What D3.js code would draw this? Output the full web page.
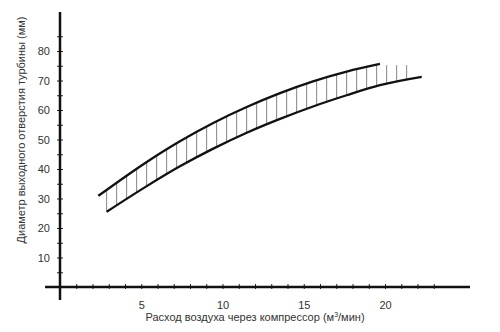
<!DOCTYPE html>
<html>
<head>
<meta charset="utf-8">
<script src="https://cdn.jsdelivr.net/npm/d3@7"></script>
<style>
  html, body { margin: 0; padding: 0; background: #fff; }
  svg { display: block; font-family: "Liberation Sans", Arial, sans-serif; }
</style>
</head>
<body>
<svg id="chart" width="500" height="332"></svg>
<script>
// Upper boundary of the band: flow (m³/min) vs outlet diameter (mm)
const upperX = [2.36, 5.34, 7.38, 9.43, 11.49, 13.54, 15.57, 17.64, 19.69];
const upperY = [30.9, 42.4, 49.4, 55.6, 61.0, 65.7, 69.7, 73.0, 75.6];
// Lower boundary of the band
const lowerX = [2.87, 5.34, 7.38, 9.43, 11.49, 13.54, 15.57, 17.64, 19.69, 22.26];
const lowerY = [25.5, 34.2, 40.9, 46.9, 52.3, 57.0, 61.2, 65.0, 68.4, 71.2];
// Hatch lines between the two boundaries
const hatchStart = 2.87, hatchEnd = 21.4, hatchStep = 0.6154;
const hatchCap = 75.2; // top of hatches past the end of the upper boundary

const xTicks = d3.range(1, 24);
const xTickLabels = [5, 10, 15, 20];
const yTicks = d3.range(5, 90, 5);
const yTickLabels = [10, 20, 30, 40, 50, 60, 70, 80];

const xTitle = "Расход воздуха через компрессор (м";
const xTitleSup = "3";
const xTitleEnd = "/мин)";
const yTitle = "Диаметр выходного отверстия турбины (мм)";

const svg = d3.select("#chart");
const x = d3.scaleLinear().domain([0, 20]).range([60, 385]);
const y = d3.scaleLinear().domain([0, 80]).range([287, 51]);
const textColor = "#333";

// Hatching
const upperAt = d3.scaleLinear().domain(upperX).range(upperY).clamp(true);
const lowerAt = d3.scaleLinear().domain(lowerX).range(lowerY);
const hatchXs = d3.range(hatchStart, hatchEnd, hatchStep);
svg.append("g").selectAll("line").data(hatchXs).join("line")
  .attr("x1", d => x(d)).attr("x2", d => x(d))
  .attr("y1", d => y(d > upperX[upperX.length - 1] ? hatchCap : upperAt(d)))
  .attr("y2", d => y(lowerAt(d)))
  .attr("stroke", "#777").attr("stroke-width", 0.9);

// Boundary curves
const line = d3.line().x(d => x(d[0])).y(d => y(d[1])).curve(d3.curveMonotoneX);
svg.append("path").datum(d3.zip(upperX, upperY)).attr("d", line)
  .attr("fill", "none").attr("stroke", "#111").attr("stroke-width", 2.3);
svg.append("path").datum(d3.zip(lowerX, lowerY)).attr("d", line)
  .attr("fill", "none").attr("stroke", "#111").attr("stroke-width", 2.3);

// X axis
const xAxis = svg.append("g").attr("transform", `translate(0,${y(0)})`)
  .call(d3.axisBottom(x).tickValues(xTicks).tickSize(3).tickSizeOuter(0)
    .tickFormat(d => xTickLabels.includes(d) ? d : ""));
xAxis.select(".domain").remove();
xAxis.selectAll(".tick line").attr("y1", -3).attr("y2", 2).attr("stroke", "#222").attr("stroke-width", 1);
xAxis.selectAll(".tick text").attr("y", 14).attr("font-size", 11)
  .attr("fill", textColor).attr("font-family", "Liberation Sans, Arial, sans-serif");
svg.append("line").attr("x1", x(-0.92)).attr("x2", x(25.23)).attr("y1", y(0)).attr("y2", y(0))
  .attr("stroke", "#111").attr("stroke-width", 2.5);

// Y axis
const yAxis = svg.append("g").attr("transform", `translate(${x(0)},0)`)
  .call(d3.axisLeft(y).tickValues(yTicks).tickSize(3).tickSizeOuter(0)
    .tickFormat(d => yTickLabels.includes(d) ? d : ""));
yAxis.select(".domain").remove();
yAxis.selectAll(".tick line").attr("x1", -3).attr("x2", 3).attr("stroke", "#222").attr("stroke-width", 1);
yAxis.selectAll(".tick text").attr("x", -10).attr("font-size", 11)
  .attr("fill", textColor).attr("font-family", "Liberation Sans, Arial, sans-serif");
svg.append("line").attr("x1", x(0)).attr("x2", x(0)).attr("y1", y(93.2)).attr("y2", y(-4.4))
  .attr("stroke", "#111").attr("stroke-width", 2.5);

// Axis titles
const xt = svg.append("text").attr("x", 255).attr("y", 321).attr("text-anchor", "middle")
  .attr("font-size", 11).attr("fill", textColor);
xt.append("tspan").text(xTitle);
xt.append("tspan").attr("dy", -4).attr("font-size", 7).text(xTitleSup);
xt.append("tspan").attr("dy", 4).text(xTitleEnd);

svg.append("text").attr("transform", "translate(25,130) rotate(-90)")
  .attr("text-anchor", "middle").attr("font-size", 11).attr("fill", textColor)
  .text(yTitle);
</script>
</body>
</html>
